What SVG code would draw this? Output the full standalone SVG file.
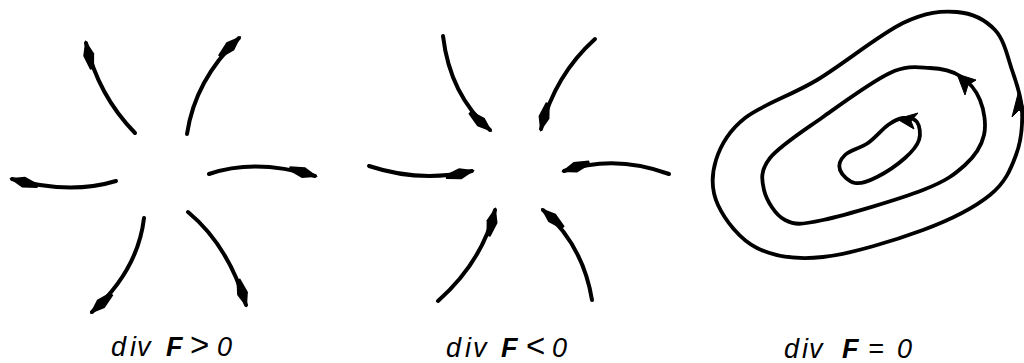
<svg xmlns="http://www.w3.org/2000/svg" width="1024" height="363" viewBox="0 0 1024 363">
<style>
.c{fill:none;stroke:#000;stroke-width:4;stroke-linecap:round;stroke-linejoin:round}
.loop{fill:none;stroke:#000;stroke-width:3.8;stroke-linejoin:round}
.ah{fill:#000;stroke:#000;stroke-width:1;stroke-linejoin:round}
.lbl{font-family:"Liberation Sans",Arial,sans-serif;font-size:27px;font-style:italic;fill:#000}
.b{font-weight:bold}
.rel{font-size:33px;font-style:normal}
</style>
<defs>
<marker id="sp" viewBox="-30 -7 36 14" refX="0" refY="0" markerWidth="36" markerHeight="14" orient="auto" markerUnits="userSpaceOnUse">
<path d="M3,0 L-12,-5.6 L-27,-2 L-27,2 L-12,5.6 Z" fill="#000"/>
</marker>
</defs>
<rect width="1024" height="363" fill="#fff"/>
<g id="connectors">
<g id="source-field">
<path class="c" marker-end="url(#sp)" d="M135,133 Q98,95 86,43"/>
<path class="c" marker-end="url(#sp)" d="M187,134 Q195,80 239,38"/>
<path class="c" marker-end="url(#sp)" d="M209,174 Q255,158 315,176"/>
<path class="c" marker-end="url(#sp)" d="M116,181 Q70,195 12,179"/>
<path class="c" marker-end="url(#sp)" d="M144,218 Q138,270 92,312"/>
<path class="c" marker-end="url(#sp)" d="M188,212 Q228,245 246,305"/>
</g>
<g id="sink-field">
<path class="c" marker-end="url(#sp)" d="M443,36 Q450,95 490,130"/>
<path class="c" marker-end="url(#sp)" d="M595,39 Q555,75 541,129"/>
<path class="c" marker-end="url(#sp)" d="M369,166 Q420,183 472,171"/>
<path class="c" marker-end="url(#sp)" d="M669,174 Q615,154 564,171"/>
<path class="c" marker-end="url(#sp)" d="M438,301 Q482,262 495,210"/>
<path class="c" marker-end="url(#sp)" d="M592,300 Q583,245 543,210"/>
</g>
<g id="rotational-field">
<path class="loop" d="M957,12 C972.3,13.2 985.8,20.3 995,30 C1004.2,39.7 1007.5,56.7 1012,70 C1016.5,83.3 1021.3,95.8 1022,110 C1022.7,124.2 1021.3,140.8 1016,155 C1010.7,169.2 1005.5,182.5 990,195 C974.5,207.5 950.8,219.7 923,230 C895.2,240.3 850.7,254 823,257 C795.3,260 774.5,256.7 757,248 C739.5,239.3 724.8,219.7 718,205 C711.2,190.3 711.5,174.5 716,160 C720.5,145.5 728.2,131.3 745,118 C761.8,104.7 790.7,95.8 817,80 C843.3,64.2 879.7,34.3 903,23 C926.3,11.7 941.7,10.8 957,12 Z"/>
<path class="loop" d="M930,68 C941.7,68.5 951.7,70.7 960,76 C968.3,81.3 976,90.2 980,100 C984,109.8 986.5,124.2 984,135 C981.5,145.8 975.2,155.8 965,165 C954.8,174.2 946.7,180.8 923,190 C899.3,199.2 846,215 823,220 C800,225 794.8,225 785,220 C775.2,215 766.5,200.3 764,190 C761.5,179.7 760.2,170.2 770,158 C779.8,145.8 803,131.2 823,117 C843,102.8 872.2,81.2 890,73 C907.8,64.8 918.3,67.5 930,68 Z"/>
<path class="loop" d="M903,118 C907.8,117.5 914.3,118.3 917,122 C919.7,125.7 921,134 919,140 C917,146 912,151.8 905,158 C898,164.2 885.3,172.8 877,177 C868.7,181.2 861.2,184.2 855,183 C848.8,181.8 841.7,174.7 840,170 C838.3,165.3 840.3,159.5 845,155 C849.7,150.5 860.8,148 868,143 C875.2,138 882.2,129.2 888,125 C893.8,120.8 898.2,118.5 903,118 Z"/>
<polygon class="ah" points="1019,90 1026,117 1019,110 1012,117"/>
<polygon class="ah" points="957,74 976,80 968,85 965,95"/>
<polygon class="ah" points="897,119 918,113 911,121 914,129"/>
</g>
</g>
<g id="label-pos">
<text class="lbl" y="356"><tspan x="111">d</tspan><tspan x="130">i</tspan><tspan x="137">v</tspan><tspan class="b" x="166">F</tspan><tspan class="rel" x="190">&gt;</tspan><tspan x="217">0</tspan></text>
</g>
<g id="label-neg">
<text class="lbl" y="357"><tspan x="446">d</tspan><tspan x="465">i</tspan><tspan x="473">v</tspan><tspan class="b" x="501">F</tspan><tspan class="rel" x="526">&lt;</tspan><tspan x="552">0</tspan></text>
</g>
<g id="label-zero">
<text class="lbl" y="358"><tspan x="784">d</tspan><tspan x="802">i</tspan><tspan x="809">v</tspan><tspan class="b" x="842">F</tspan><tspan x="868">=</tspan><tspan x="897">0</tspan></text>
</g>
</svg>
